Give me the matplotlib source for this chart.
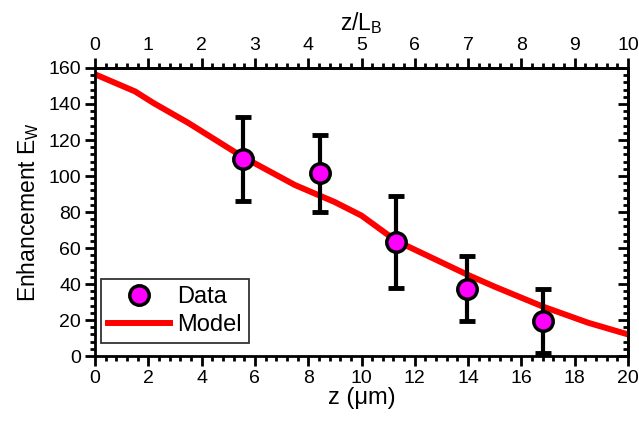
import matplotlib
matplotlib.use("Agg")
import matplotlib.pyplot as plt
from matplotlib.ticker import MultipleLocator, AutoMinorLocator

plt.rcParams['font.family'] = ['Liberation Sans', 'DejaVu Sans']
plt.rcParams['mathtext.fontset'] = 'custom'
plt.rcParams['mathtext.rm'] = 'Liberation Sans'

# measured points
z_data = [5.55, 8.45, 11.3, 13.95, 16.8]
ew_data = [109.5, 101.5, 63.5, 37.5, 19.5]
ew_err = [23.5, 21.5, 25.5, 18, 18]

# model curve
z_model = [0, 1.5, 2.2, 3.5, 5.5, 7.5, 9, 10, 11.3, 14, 15, 16.8, 18.5, 20]
ew_model = [156.5, 147, 140.5, 129.5, 111, 95, 85.5, 78, 64, 45, 38.5, 27.5, 18.5, 12]

fig = plt.figure(figsize=(6.39, 4.32), dpi=100)
ax = fig.add_axes([0.1487, 0.1759, 0.8341, 0.6667])

model_line, = ax.plot(z_model, ew_model, color='red', lw=4.3, label='Model',
                      solid_joinstyle='round', zorder=2)
ax.errorbar(z_data, ew_data, yerr=ew_err, fmt='none', ecolor='black',
            elinewidth=3, capsize=5.5, capthick=3.5, zorder=3)
data_pts, = ax.plot(z_data, ew_data, 'o', ms=14, mfc='magenta', mec='black', mew=2.5,
                    ls='none', label='Data', zorder=4)

ax.set_xlim(0, 20)
ax.set_ylim(0, 160)
ax.xaxis.set_major_locator(MultipleLocator(2))
ax.xaxis.set_minor_locator(AutoMinorLocator(5))
ax.yaxis.set_major_locator(MultipleLocator(20))
ax.yaxis.set_minor_locator(AutoMinorLocator(5))

for s in ax.spines.values():
    s.set_linewidth(2)
ax.tick_params(which='both', direction='out', width=2, labelsize=14, pad=3,
               top=False, right=False)
ax.tick_params(which='major', length=7)
ax.tick_params(which='minor', length=3.5)

ax.set_xlabel('z (\u03bcm)', fontsize=17, labelpad=0)
ax.set_ylabel('Enhancement E$_\\mathregular{W}$', fontsize=16.5, labelpad=5)

top = ax.secondary_xaxis('top', functions=(lambda x: x / 2, lambda x: x * 2))
top.xaxis.set_major_locator(MultipleLocator(1))
top.xaxis.set_minor_locator(AutoMinorLocator(5))
top.tick_params(which='both', direction='out', width=2, labelsize=14, pad=3)
top.tick_params(which='major', length=7)
top.tick_params(which='minor', length=3.5)
top.spines['top'].set_linewidth(2)
top.set_xlabel('z/L$_\\mathregular{B}$', fontsize=16.5, labelpad=5)

right = ax.secondary_yaxis('right')
right.yaxis.set_major_locator(MultipleLocator(20))
right.yaxis.set_minor_locator(AutoMinorLocator(5))
right.tick_params(which='both', direction='in', width=2, labelright=False)
right.tick_params(which='major', length=7)
right.tick_params(which='minor', length=3.5)
right.spines['right'].set_linewidth(2)

leg = ax.legend(handles=[data_pts, model_line], loc='lower left',
                bbox_to_anchor=(0.012, 0.045), fontsize=17,
                frameon=True, fancybox=False, edgecolor='black',
                handlelength=2.6, handletextpad=0.3, borderpad=0.3,
                labelspacing=0.25, borderaxespad=0)
leg.get_frame().set_linewidth(1.3)

fig.savefig('out.png', dpi=100)
